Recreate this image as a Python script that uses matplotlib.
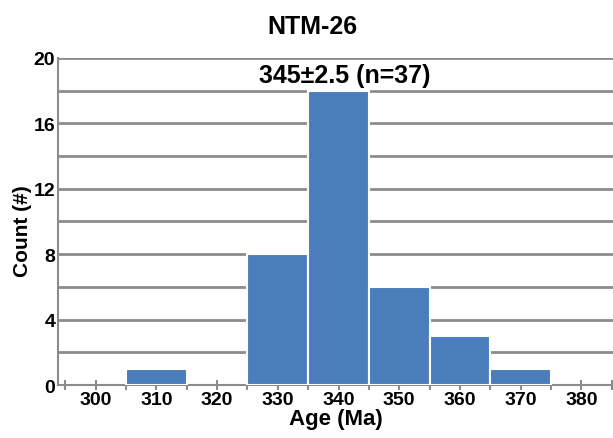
import matplotlib
matplotlib.use("Agg")
import matplotlib.pyplot as plt
from matplotlib.ticker import MultipleLocator

plt.rcParams["font.family"] = ["Liberation Sans", "DejaVu Sans"]
plt.rcParams["font.weight"] = "bold"

# Histogramme des âges (bins de 10 Ma)
bin_centres = [310, 330, 340, 350, 360, 370]
comptes = [1, 8, 18, 6, 3, 1]
largeur = 10
x_labels = [300, 310, 320, 330, 340, 350, 360, 370, 380]
y_labels = [0, 4, 8, 12, 16, 20]

gris = "#8c8c8c"
bleu = "#4a7ebb"

fig = plt.figure(figsize=(6.13, 4.39), dpi=100)
ax = fig.add_axes([0.0946, 0.1207, 0.9054, 0.745])

ax.bar(bin_centres, comptes, width=largeur, color=bleu, edgecolor="white",
       linewidth=1.5, zorder=3)

ax.set_xlim(293.8, 385.2)
ax.set_ylim(0, 20)

ax.set_yticks(y_labels)
ax.yaxis.set_minor_locator(MultipleLocator(2))
ax.grid(axis="y", which="both", color=gris, linewidth=2, zorder=0)
ax.tick_params(axis="y", which="both", length=0, labelsize=14, pad=2)

ax.set_xticks(x_labels)
ax.xaxis.set_minor_locator(MultipleLocator(5))
ax.tick_params(axis="x", which="both", direction="inout", length=7, width=1.5,
               color=gris, labelsize=14, pad=1)

for s in ["top", "right"]:
    ax.spines[s].set_visible(False)
for s in ["left", "bottom"]:
    ax.spines[s].set_color(gris)
    ax.spines[s].set_linewidth(1.5)

ax.set_xlabel("Age (Ma)", fontsize=16, fontweight="bold", labelpad=0)
ax.set_ylabel("Count (#)", fontsize=15, fontweight="bold")
ax.yaxis.set_label_coords(-0.046, 0.475)
fig.text(0.51, 0.938, "NTM-26", ha="center", va="center", fontsize=18,
         fontweight="bold")
ax.text(341, 18.96, "345±2.5 (n=37)", ha="center", va="center", fontsize=18,
        fontweight="bold", zorder=4)

fig.savefig("out.png", dpi=100)
plt.close()
